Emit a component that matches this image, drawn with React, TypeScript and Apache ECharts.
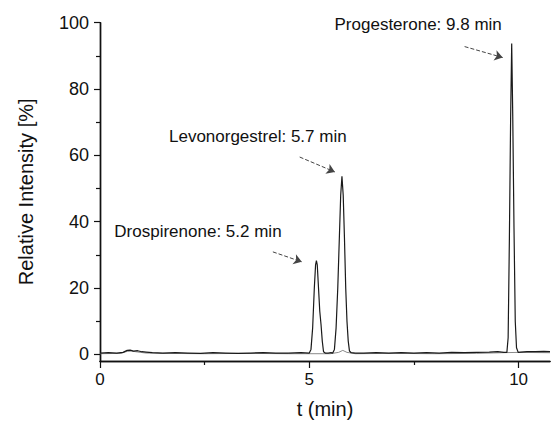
import React, { useEffect, useRef } from "react";
import * as echarts from "echarts";

// Main chromatogram trace (time in min, relative intensity in %)
const mainT = [
  0, 0.2, 0.4, 0.55, 0.65, 0.72, 0.8, 0.9, 1.0, 1.1, 1.25, 1.5, 1.8, 2.1, 2.4, 2.7, 3.0, 3.3, 3.6,
  3.9, 4.2, 4.5, 4.8, 5.0, 5.04, 5.08, 5.12, 5.15, 5.17, 5.19, 5.22, 5.25, 5.28, 5.31, 5.34, 5.38,
  5.45, 5.52, 5.56, 5.6, 5.64, 5.68, 5.72, 5.75, 5.78, 5.81, 5.84, 5.87, 5.9, 5.93, 5.96, 6.0,
  6.1, 6.3, 6.6, 6.9, 7.2, 7.5, 7.8, 8.1, 8.4, 8.7, 9.0, 9.3, 9.5, 9.65, 9.72, 9.75, 9.78, 9.81,
  9.835, 9.86, 9.89, 9.92, 9.95, 9.99, 10.05, 10.2, 10.4, 10.6, 10.75,
];
const mainY = [
  0.4, 0.5, 0.4, 0.6, 1.2, 1.3, 1.0, 1.1, 0.8, 0.7, 0.5, 0.4, 0.5, 0.4, 0.3, 0.5, 0.4, 0.3, 0.4,
  0.5, 0.4, 0.4, 0.5, 0.4, 1.5, 8, 20, 27, 28.3, 27, 20, 13, 9, 4, 0.8, 0.4,
  0.4, 0.5, 0.4, 1.5, 8, 20, 36, 48, 53.7, 48, 35, 20, 10, 4, 1, 0.5,
  0.4, 0.4, 0.5, 0.4, 0.5, 0.4, 0.5, 0.4, 0.6, 0.5, 0.6, 0.7, 0.8, 0.6, 0.6, 5, 35, 72,
  93.7, 72, 38, 10, 2, 0.6, 0.7, 0.8, 0.8, 0.9, 0.8,
];

// Secondary (blank) trace
const blankT = [0, 0.5, 0.65, 0.75, 0.9, 1.1, 1.5, 2.5, 3.5, 4.5, 5.5, 5.7, 5.8, 5.9, 6.1, 7.0, 8.0, 9.0, 9.6, 10.0, 10.75];
const blankY = [0.2, 0.3, 0.9, 1.0, 0.7, 0.4, 0.3, 0.2, 0.3, 0.2, 0.2, 0.6, 1.2, 0.6, 0.2, 0.3, 0.2, 0.3, 0.5, 0.6, 0.5];

// Annotations
const peakLabels = ["Progesterone: 9.8 min", "Levonorgestrel: 5.7 min", "Drospirenone: 5.2 min"];
const labelAnchors = [
  [7.6, 99.6],
  [3.77, 65.8],
  [2.34, 36.9],
];
const arrowStarts = [
  [8.71, 92.8],
  [4.77, 59.5],
  [4.13, 30.9],
];
const arrowEnds = [
  [9.62, 89.5],
  [5.61, 55.0],
  [4.82, 27.9],
];

const xMajor = [0, 5, 10];
const xMinor = [2.5, 7.5];
const yMajor = [0, 20, 40, 60, 80, 100];
const yMinor = [10, 30, 50, 70, 90];

const FONT = "'Liberation Sans', Arial, Helvetica, sans-serif";

export default function App() {
  const ref = useRef<HTMLDivElement>(null);

  useEffect(() => {
    document.body.style.margin = "0";
    const chart = echarts.init(ref.current!, undefined, { renderer: "svg" });
    const axisLine = { show: true, onZero: false, lineStyle: { color: "#111", width: 1.4 } };
    const xBase = {
      type: "value",
      min: 0,
      max: 10.75,
      splitLine: { show: false },
      axisLine,
    };
    const yBase = {
      type: "value",
      min: -2,
      max: 100,
      splitLine: { show: false },
      axisLine,
    };
    chart.setOption({
      animation: false,
      backgroundColor: "#fff",
      textStyle: { fontFamily: FONT },
      grid: { left: 100, right: 1, top: 22.7, bottom: 61.5, containLabel: false },
      xAxis: [
        {
          ...xBase,
          name: "t (min)",
          nameLocation: "middle",
          nameGap: 38,
          nameTextStyle: { fontSize: 20, color: "#111", fontFamily: FONT },
          axisTick: { show: true, inside: false, length: 7, customValues: xMajor, lineStyle: { color: "#111", width: 1.2 } },
          axisLabel: { show: true, customValues: xMajor, fontSize: 17, color: "#111", margin: 10, fontFamily: FONT },
        },
        {
          ...xBase,
          position: "bottom",
          axisTick: { show: true, length: 4, customValues: xMinor, lineStyle: { color: "#111", width: 1.2 } },
          axisLabel: { show: false },
        },
      ],
      yAxis: [
        {
          ...yBase,
          name: "Relative Intensity [%]",
          nameLocation: "middle",
          nameGap: 64,
          nameRotate: 90,
          nameTextStyle: { fontSize: 20, color: "#111", fontFamily: FONT },
          axisTick: { show: true, length: 6, customValues: yMajor, lineStyle: { color: "#111", width: 1.2 } },
          axisLabel: { show: true, customValues: yMajor, fontSize: 18, color: "#111", margin: 11, fontFamily: FONT },
        },
        {
          ...yBase,
          position: "left",
          axisTick: { show: true, length: 4, customValues: yMinor, lineStyle: { color: "#111", width: 1.2 } },
          axisLabel: { show: false },
        },
      ],
      series: [
        {
          type: "line",
          xAxisIndex: 0,
          yAxisIndex: 0,
          data: blankT.map((t, i) => [t, blankY[i]]),
          showSymbol: false,
          symbol: "none",
          lineStyle: { color: "#8a8a8a", width: 1 },
          z: 2,
        },
        {
          type: "line",
          xAxisIndex: 0,
          yAxisIndex: 0,
          data: mainT.map((t, i) => [t, mainY[i]]),
          showSymbol: false,
          symbol: "none",
          lineStyle: { color: "#1a1a1a", width: 1.2 },
          z: 3,
          markLine: {
            silent: true,
            symbol: ["none", "arrow"],
            symbolSize: 8,
            label: { show: false },
            lineStyle: { type: "dashed", color: "#444", width: 1 },
            data: arrowStarts.map((s, i) => [{ coord: s }, { coord: arrowEnds[i] }]),
          },
          markPoint: {
            silent: true,
            symbol: "circle",
            symbolSize: 1,
            itemStyle: { color: "transparent" },
            label: {
              show: true,
              position: "inside",
              color: "#111",
              fontSize: 17,
              fontFamily: FONT,
            },
            data: labelAnchors.map((c, i) => ({
              coord: c,
              value: peakLabels[i],
              label: { formatter: peakLabels[i] },
            })),
          },
        },
      ],
    });
    return () => chart.dispose();
  }, []);

  return <div ref={ref} style={{ width: 551, height: 424 }} />;
}
